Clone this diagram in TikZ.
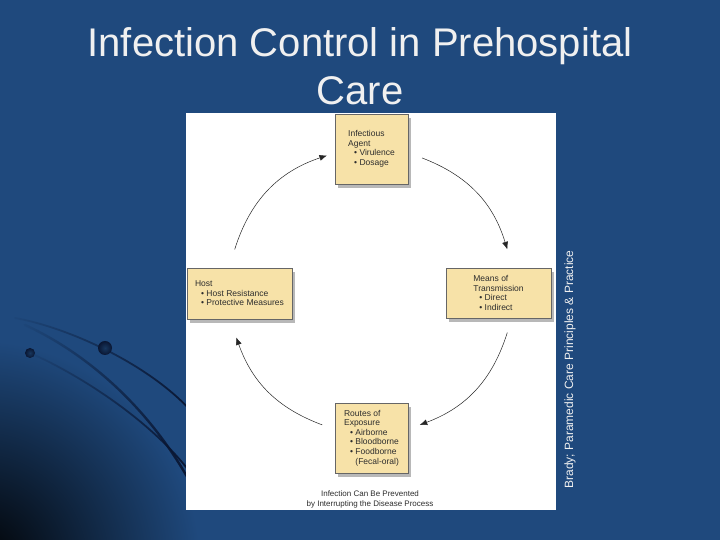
\documentclass[tikz,border=0pt]{standalone}
\usepackage{fontspec}
\setmainfont{Liberation Sans}
\usetikzlibrary{shadows,arrows.meta,fadings}
\definecolor{bgblue}{RGB}{31,73,125}
\definecolor{navy}{RGB}{10,22,50}
\definecolor{boxfill}{RGB}{247,226,168}
\definecolor{txtgray}{RGB}{45,45,45}
\definecolor{titlewhite}{RGB}{240,240,240}
\tikzfading[name=fadein,left color=transparent!95,right color=transparent!0]
\newcommand{\bul}[1]{\hspace*{6pt}\textbullet\ #1}

\begin{document}
\begin{tikzpicture}[x=1pt,y=1pt,>={Latex[length=7.5pt,width=6pt]}]
	\tikzstyle{box}=[rectangle,draw=black!60,line width=0.4pt,fill=boxfill,text=txtgray,align=left,inner sep=0pt,font=\fontsize{8.5}{9.6}\selectfont,drop shadow={shadow xshift=3pt,shadow yshift=-4pt,fill=black!28,opacity=1}]
	\tikzstyle{cyc}=[->,line width=0.5pt,black!85]
	\tikzstyle{streak}=[navy,line cap=round,path fading=fadein]
	\useasboundingbox (0,0) rectangle (720,540);
	\fill[bgblue] (0,0) rectangle (720,540);
	\begin{scope}
		\clip (0,0) rectangle (720,540);
		\shade[inner color=black,outer color=bgblue] (-25,-25) circle (225);
	\end{scope}
	\draw[streak,line width=1.8pt] (15,222) .. controls (70,212) and (150,175) .. (192,128);
	\draw[streak,line width=2.4pt] (25,215) .. controls (90,185) and (150,130) .. (190,58);
	\draw[streak,line width=1.8pt] (30,187) .. controls (80,165) and (150,120) .. (190,68);
	\shade[inner color=bgblue!75!black,outer color=navy] (105,192) circle (7);
	\shade[inner color=bgblue!75!black,outer color=navy] (30,187) circle (5);
	\fill[white] (186,30) rectangle (556,427);
	\node[font=\fontsize{40}{48}\selectfont,text=titlewhite,align=center,anchor=north,inner sep=0pt](t1) at (360,512.5) {Infection Control in Prehospital\\Care};
	\node[rotate=90,anchor=base,font=\fontsize{12}{14}\selectfont,text=titlewhite,inner sep=0pt](s1) at (573,170.5) {Brady; Paramedic Care Principles \& Practice};
	\node[box,minimum width=73pt,minimum height=70pt](b1) at (371.5,391) {Infectious\\Agent\\\bul{Virulence}\\\bul{Dosage}};
	\node[box,minimum width=105pt,minimum height=51pt](b2) at (239.5,246.5) {Host\\\bul{Host Resistance}\\\bul{Protective Measures}};
	\node[box,minimum width=105pt,minimum height=50pt](b3) at (498.5,247) {Means of\\Transmission\\\bul{Direct}\\\bul{Indirect}};
	\node[box,minimum width=73pt,minimum height=70pt](b4) at (371.5,102) {Routes of\\Exposure\\\bul{Airborne}\\\bul{Bloodborne}\\\bul{Foodborne}\\\hspace*{6pt}\phantom{\textbullet\ }(Fecal-oral)};
	\node[font=\fontsize{8}{10}\selectfont,text=txtgray,align=center,anchor=north,inner sep=0pt](cap) at (370,49.8) {Infection Can Be Prevented\\by Interrupting the Disease Process};
	\coordinate (c) at (371,249);
	\coordinate (p1) at ([shift={(163:142.5)}]c);
	\coordinate (p2) at ([shift={(108:142.5)}]c);
	\coordinate (p3) at ([shift={(69:142.5)}]c);
	\coordinate (p4) at ([shift={(17:142.5)}]c);
	\coordinate (p5) at ([shift={(-17:142.5)}]c);
	\coordinate (p6) at ([shift={(-70:142.5)}]c);
	\coordinate (p7) at ([shift={(250:142.5)}]c);
	\coordinate (p8) at ([shift={(199:142.5)}]c);
	\draw[cyc] (p1) to[bend left=27] (p2);
	\draw[cyc] (p3) to[bend left=26] (p4);
	\draw[cyc] (p5) to[bend left=26] (p6);
	\draw[cyc] (p7) to[bend left=25] (p8);
\end{tikzpicture}
\end{document}
